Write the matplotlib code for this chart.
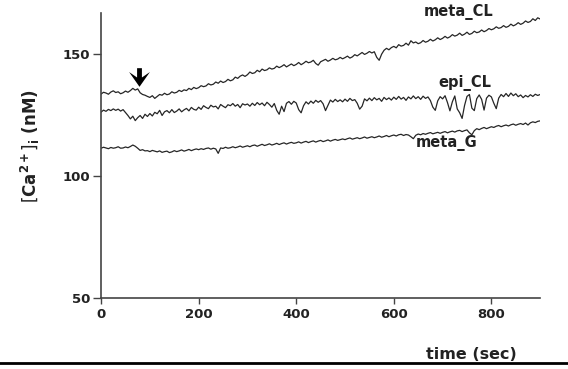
import numpy as np
import matplotlib.pyplot as plt
from matplotlib.lines import Line2D
from matplotlib.path import Path

# time axis, one sample every 5 s
time_sec = np.arange(0, 905, 5)

meta_CL = [
    133.6, 134.3, 134.0, 133.5, 134.4, 134.9, 134.2, 134.5, 133.7, 134.1, 134.8, 134.3, 135.0, 135.9, 135.2, 135.7, 134.1, 133.4, 133.1, 132.6,
    132.2, 132.9, 131.8, 132.6, 133.4, 133.1, 133.9, 133.3, 133.6, 134.5, 134.0, 134.3, 135.1, 134.6, 135.3, 135.0, 135.9, 135.4, 136.3, 135.8,
    136.2, 137.0, 136.6, 136.9, 137.8, 137.3, 137.6, 138.5, 138.0, 138.9, 138.3, 138.7, 139.6, 139.0, 139.4, 140.5, 140.0, 140.9, 141.4, 140.8,
    141.5, 142.6, 142.0, 142.3, 143.3, 142.7, 143.8, 143.2, 143.5, 144.3, 143.8, 144.1, 145.0, 144.4, 144.9, 145.6, 144.7, 145.3, 145.9, 145.2,
    145.7, 146.5, 145.6, 146.2, 147.0, 146.4, 146.7, 147.4, 146.1, 145.4, 146.8, 147.3, 147.8, 147.0, 147.5, 148.2, 147.6, 147.9, 148.6, 148.0,
    148.5, 149.1, 148.3, 148.8, 149.7, 149.2, 149.9, 150.6, 149.8, 150.3, 151.0, 150.4, 150.9, 148.6, 147.4, 149.9, 151.5, 152.3, 151.7, 152.6,
    153.1, 152.5, 153.8, 153.2, 153.5, 154.4, 153.6, 155.4, 154.5, 154.9, 154.2, 154.6, 155.5, 154.8, 155.2, 156.0, 155.3, 155.8, 156.6, 155.9,
    156.4, 157.2, 156.5, 157.0, 157.9, 157.3, 157.7, 158.5, 157.6, 158.1, 158.9, 158.0, 158.4, 159.3, 158.7, 159.0, 159.8, 159.1, 159.6, 160.4,
    159.9, 160.3, 161.1, 160.5, 160.8, 161.6, 160.9, 161.3, 162.2, 161.5, 162.0, 162.8, 162.1, 162.6, 163.5, 162.9, 163.3, 164.4, 163.7, 164.8,
    164.3,
]

epi_CL = [
    126.2, 127.0, 126.5, 127.3, 126.8, 127.5, 126.9, 127.4, 126.6, 127.2, 126.0, 124.8, 123.4, 124.5, 122.7, 123.9, 124.8, 123.6, 125.3, 124.4,
    125.6, 124.6, 126.1, 125.5, 126.9, 124.8, 126.3, 126.8, 125.9, 127.2, 126.0, 126.6, 127.5, 126.3, 127.1, 127.7, 126.7, 128.1, 127.3, 127.0,
    128.2, 127.3, 128.8, 128.1, 127.6, 129.0, 128.3, 128.6, 127.5, 129.3, 128.6, 128.0, 129.2, 128.8, 129.7, 128.6, 129.3, 128.0, 129.6, 129.1,
    129.5, 128.6, 129.8, 128.9, 130.1, 129.2, 129.9, 128.8, 130.2, 129.3, 128.2, 129.7, 126.9, 125.3, 128.6, 126.4, 129.8, 130.5, 129.4, 130.6,
    129.9, 127.2, 125.9, 128.8, 130.4, 129.5, 130.7, 129.8, 131.0, 130.2, 130.9, 129.6, 126.8, 128.9, 131.1, 130.3, 131.4, 130.5, 131.2, 130.4,
    131.5, 130.6, 131.8, 130.9, 131.3, 129.8, 127.4, 128.6, 131.6, 130.8, 131.9, 130.9, 132.1, 131.2, 131.8, 130.6, 132.2, 131.3, 132.0, 131.1,
    132.3, 131.4, 132.6, 131.5, 132.2, 131.0, 132.4, 131.6, 132.8, 131.7, 132.5, 131.4, 132.7, 131.8, 132.4, 130.9, 128.2, 126.9, 130.8, 132.5,
    131.6, 132.9, 130.1, 126.7, 130.4, 132.8, 127.5, 125.9, 123.6, 128.9, 132.6, 133.4, 127.8, 126.8, 131.7, 133.2, 131.4, 127.0, 131.9, 133.1,
    132.4, 129.8, 127.6, 131.9, 133.4, 132.5, 133.8, 132.6, 134.0, 132.9, 133.7, 132.5, 133.2, 132.1, 133.0, 132.4, 133.3, 132.6, 133.5, 133.0,
    133.4,
]

meta_G = [
    111.4, 111.8, 111.5, 111.2, 111.7, 111.4, 111.6, 112.0, 111.4, 111.5, 111.9, 111.6, 112.1, 112.7, 112.2, 111.4, 110.5, 110.8, 110.3, 110.4,
    110.0, 110.5, 110.2, 109.9, 110.3, 109.7, 110.0, 110.2, 109.6, 109.9, 110.4, 110.0, 110.3, 110.7, 110.2, 110.5, 110.9, 110.4, 110.8, 111.1,
    110.8, 111.2, 110.9, 111.3, 111.5, 111.0, 111.4, 111.1, 109.3, 111.5, 111.3, 111.8, 111.4, 111.6, 112.0, 111.6, 111.9, 112.3, 111.8, 112.1,
    112.4, 112.0, 112.5, 112.7, 112.2, 112.6, 113.0, 112.5, 112.8, 113.2, 112.7, 113.0, 113.4, 112.9, 113.3, 113.6, 113.1, 113.5, 113.8, 113.4,
    113.6, 114.0, 113.5, 113.9, 114.2, 113.7, 114.1, 114.4, 113.9, 114.3, 114.6, 114.1, 114.4, 114.8, 114.3, 114.7, 115.0, 114.6, 114.9, 115.2,
    114.9, 115.3, 115.6, 115.1, 115.4, 115.7, 115.3, 115.6, 116.0, 115.5, 115.8, 116.1, 115.7, 116.0, 116.4, 115.9, 116.2, 116.6, 116.1, 116.5,
    116.8, 116.4, 116.9, 117.1, 116.6, 117.0, 116.8, 116.1, 115.3, 116.7, 117.2, 116.9, 117.4, 117.1, 117.5, 117.8, 117.3, 117.6, 117.9, 117.5,
    117.9, 118.2, 117.7, 118.1, 118.4, 118.0, 118.5, 118.7, 118.2, 118.6, 118.9, 117.7, 116.9, 118.6, 119.4, 119.0, 119.5, 119.9, 119.4, 119.8,
    120.2, 119.9, 120.4, 120.7, 120.2, 120.6, 120.9, 120.5, 121.0, 121.3, 120.8, 121.2, 121.5, 121.1, 121.7, 120.9, 121.8, 122.2, 121.9, 122.4,
    122.6,
]

series_names = ['meta_CL', 'epi_CL', 'meta_G']
x_ticks = [0, 200, 400, 600, 800]
y_ticks = [50, 100, 150]
stimulus_time = 78
stimulus_level = 140.4

fig = plt.figure(figsize=(5.68, 3.69), dpi=100)
ax = fig.add_axes([0.178, 0.192, 0.773, 0.773])

line_color = '#262626'
for vals in (meta_CL, epi_CL, meta_G):
    ax.plot(time_sec, vals, color=line_color, lw=0.9)

ax.set_xlim(0, 900)
ax.set_ylim(50, 166.8)
ax.set_xticks(x_ticks)
ax.set_yticks(y_ticks)
for s in ['top', 'right']:
    ax.spines[s].set_visible(False)
for s in ['left', 'bottom']:
    ax.spines[s].set_color('#444444')
    ax.spines[s].set_linewidth(1.2)
ax.tick_params(axis='y', length=6, width=1, color='#444444', pad=2, labelsize=9.5)
ax.tick_params(axis='x', length=4, width=1, color='#444444', pad=3, labelsize=9.5)
for lab in ax.get_xticklabels() + ax.get_yticklabels():
    lab.set_fontweight('bold')
    lab.set_color('#222222')

# series labels
lab_kw = dict(fontsize=10.5, fontweight='bold', color='#222222', ha='center', va='center', clip_on=False)
ax.text(732, 167.2, series_names[0], **lab_kw)
ax.text(745, 138.1, series_names[1], **lab_kw)
ax.text(709, 113.5, series_names[2], **lab_kw)

# stimulus arrow (bold down arrow with notched head)
arrow_path = Path([(0, -0.85), (0.95, 0.5), (0.22, 0.0), (0.22, 0.85), (-0.22, 0.85),
                   (-0.22, 0.0), (-0.95, 0.5), (0, -0.85)],
                  [Path.MOVETO] + [Path.LINETO] * 6 + [Path.CLOSEPOLY])
ax.plot([stimulus_time], [stimulus_level], marker=arrow_path, markersize=15,
        color='black', markeredgewidth=0, linestyle='none')

fig.text(0.053, 0.605, r'$\left[\mathbf{Ca^{2+}}\right]_\mathbf{i}$ (nM)', rotation=90,
         ha='center', va='center', fontsize=12, fontweight='bold', color='#222222')
fig.text(0.83, 0.038, 'time (sec)', ha='center', va='center', fontsize=11.5, fontweight='bold', color='#222222')

fig.add_artist(Line2D([0, 1], [0.0175, 0.0175], transform=fig.transFigure, color='black', lw=2.0))

plt.savefig('out.png', dpi=100)
